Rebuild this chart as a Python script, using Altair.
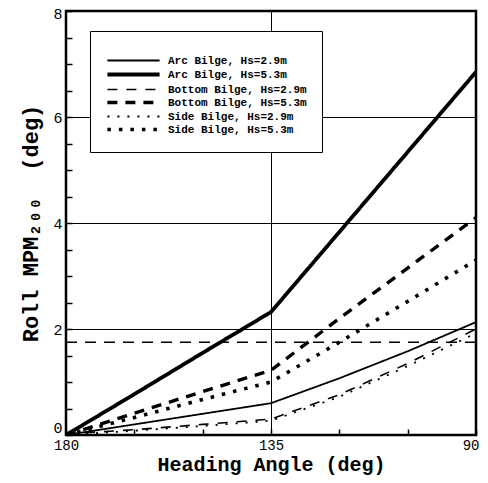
import altair as alt
import pandas as pd

# ---- data ----
angles = [180, 165, 150, 135, 120, 105, 90]
arc_29 = [0.0, 0.2, 0.4, 0.6, 1.07, 1.58, 2.13]
arc_53 = [0.0, 0.77, 1.55, 2.32, 3.83, 5.34, 6.85]
bottom_29 = [0.02, 0.1, 0.2, 0.3, 0.76, 1.35, 2.0]
bottom_53 = [0.0, 0.41, 0.82, 1.22, 2.2, 3.15, 4.1]
side_29 = [0.0, 0.08, 0.17, 0.27, 0.72, 1.3, 1.92]
side_53 = [0.0, 0.33, 0.67, 1.0, 1.75, 2.52, 3.3]
criterion_level = [1.75]

series_names = [
    "Arc Bilge, Hs=2.9m",
    "Arc Bilge, Hs=5.3m",
    "Bottom Bilge, Hs=2.9m",
    "Bottom Bilge, Hs=5.3m",
    "Side Bilge, Hs=2.9m",
    "Side Bilge, Hs=5.3m",
]
series_values = [arc_29, arc_53, bottom_29, bottom_53, side_29, side_53]

x_ticks = [180, 135, 90]
y_ticks = [0, 2, 4, 6, 8]
x_minor = [180, 165, 150, 135, 120, 105, 90]
y_minor = [0, 0.5, 1, 1.5, 2, 2.5, 3, 3.5, 4, 4.5, 5, 5.5, 6, 6.5, 7, 7.5, 8]

rows = []
for name, vals in zip(series_names, series_values):
    for a, v in zip(angles, vals):
        rows.append({"angle": a, "roll": v, "series": name})
df = pd.DataFrame(rows)

crit_df = pd.DataFrame({"level": criterion_level, "start": [angles[0]], "end": [angles[-1]]})

mono = "Liberation Mono, DejaVu Sans Mono, monospace"

dash_range = [[1, 0], [1, 0], [10, 9], [10, 8], [2, 8], [3.5, 8]]
width_range = [1.8, 3.8, 1.6, 3.4, 1.8, 3.6]

x_scale = alt.Scale(domain=[90, 180], reverse=True, nice=False, zero=False)
y_scale = alt.Scale(domain=[0, 8], nice=False)

legend = alt.Legend(
    title=" ",
    titleFontSize=6,
    titlePadding=3,
    orient="none",
    legendX=24,
    legendY=20,
    strokeColor="black",
    fillColor="white",
    padding=15,
    symbolType="M-5.8,0H5.8",
    symbolSize=81,
    symbolOffset=22,
    symbolStrokeColor="black",
    symbolFillColor="transparent",
    labelFont=mono,
    labelFontSize=11,
    labelFontWeight="bold",
    labelColor="black",
    labelOffset=28,
    rowPadding=0,
    labelExpr="datum.label + '  '",
    labelLimit=400,
)

lines = alt.Chart(df).mark_line(color="black", strokeCap="butt", clip=True).encode(
    x=alt.X(
        "angle:Q",
        scale=x_scale,
        axis=alt.Axis(
            values=x_ticks, grid=True, gridColor="black", gridWidth=1, gridOpacity=1,
            ticks=False, domain=False, labelFont=mono, labelFontSize=14, labelColor="black",
            labelPadding=3, labelFlush=False,
            labelAlign={"condition": {"test": "datum.value === 90", "value": "right"}, "value": "center"},
            labelOffset={"condition": {"test": "datum.value === 90", "value": 3}, "value": 0},
            title="Heading Angle (deg)", titleFont=mono,
            titleFontSize=20, titleFontWeight="bold", titleColor="black", titlePadding=2,
        ),
    ),
    y=alt.Y(
        "roll:Q",
        scale=y_scale,
        axis=alt.Axis(
            values=y_ticks, grid=True, gridColor="black", gridWidth=1, gridOpacity=1,
            ticks=False, domain=False, labelFont=mono, labelFontSize=15, labelColor="black",
            labelPadding=4, labelFlush=False,
            labelBaseline={"condition": {"test": "datum.value === 0", "value": "bottom"}, "value": "middle"},
            labelOffset={"condition": {"test": "datum.value === 8", "value": 2}, "value": 0},
            title="Roll MPM₂₀₀\u00a0\u00a0(deg)", titleFont=mono,
            titleFontSize=22, titleFontWeight="bold", titleColor="black", titlePadding=10,
        ),
    ),
    strokeDash=alt.StrokeDash(
        "series:N", scale=alt.Scale(type="ordinal", domain=series_names, range=dash_range), legend=legend
    ),
    strokeWidth=alt.StrokeWidth(
        "series:N", scale=alt.Scale(type="ordinal", domain=series_names, range=width_range), legend=legend
    ),
)

rule = alt.Chart(crit_df).mark_rule(color="black", strokeDash=[11, 8], strokeWidth=1.3).encode(
    x=alt.X(
        "start:Q",
        scale=x_scale,
        axis=alt.Axis(
            values=x_minor, orient="bottom", labels=False, grid=False, domain=False,
            ticks=True, tickSize=6, tickColor="black", tickWidth=1.5, offset=-6, title=None,
        ),
    ),
    x2="end:Q",
    y=alt.Y(
        "level:Q",
        scale=y_scale,
        axis=alt.Axis(
            values=y_minor, orient="left", labels=False, grid=False, domain=False,
            ticks=True, tickSize=6, tickColor="black", tickWidth=1.5, offset=-6, title=None,
        ),
    ),
)

chart = (
    alt.layer(lines, rule)
    .resolve_axis(x="independent", y="independent")
    .properties(
        width=410,
        height=424,
        autosize=alt.AutoSizeParams(type="none"),
        padding={"left": 58, "top": 3, "right": 4, "bottom": 40},
        background="white",
    )
    .configure_view(stroke="black", strokeWidth=2.5)
)

chart.save("out.html", embed_options={"renderer": "svg", "actions": False})
